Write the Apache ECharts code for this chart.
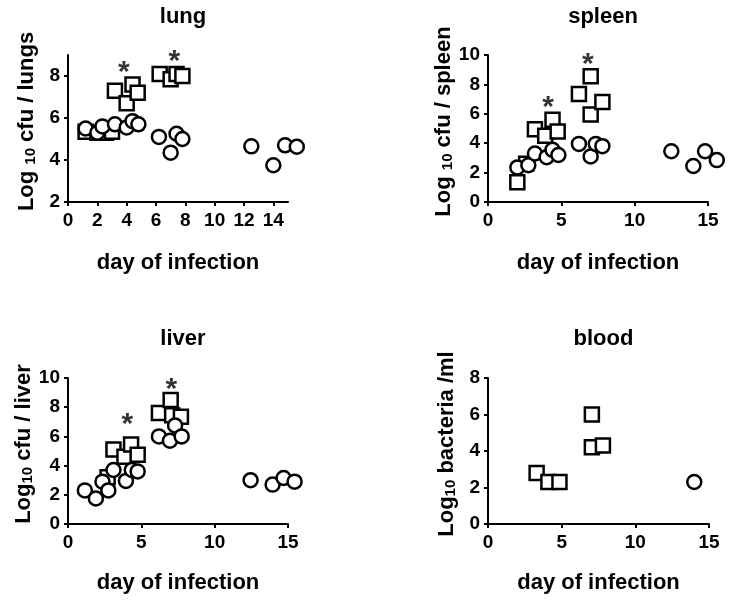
<!DOCTYPE html>
<html>
<head>
<meta charset="utf-8">
<script src="https://cdn.jsdelivr.net/npm/echarts@6/dist/echarts.min.js"></script>
<style>html,body{margin:0;padding:0;background:#fff}#c{width:731px;height:600px}</style>
</head>
<body>
<div id="c"></div>
<script>
// ---- data ----
const panelTitles = ['lung', 'spleen', 'liver', 'blood'];
const xAxisTitle = 'day of infection';
const yOrgans = ['lungs', 'spleen', 'liver', 'bacteria /ml'];

const lungSquares = [[1.2,5.35],[2.0,5.3],[2.6,5.3],[3.0,5.35],[3.2,7.3],[4.0,6.7],[4.4,7.6],[4.75,7.2],[6.25,8.1],[7.0,7.85],[7.4,8.1],[7.8,8.0]];
const lungCircles = [[1.2,5.5],[2.0,5.3],[2.35,5.6],[3.2,5.7],[4.0,5.55],[4.4,5.85],[4.8,5.7],[6.2,5.1],[7.0,4.35],[7.4,5.25],[7.8,5.0],[12.5,4.65],[14.0,3.75],[14.8,4.7],[15.6,4.63]];
const lungStars = [[3.8,8.5],[7.25,9.0]];

const spleenSquares = [[2.0,1.35],[2.6,2.6],[3.2,4.95],[3.9,4.5],[4.4,5.6],[4.75,4.8],[6.2,7.35],[7.0,8.55],[7.0,5.95],[7.8,6.8]];
const spleenCircles = [[2.0,2.35],[2.75,2.5],[3.2,3.3],[4.0,3.05],[4.4,3.55],[4.8,3.2],[6.2,3.95],[7.0,3.1],[7.35,3.95],[7.8,3.8],[12.5,3.45],[14.0,2.45],[14.8,3.45],[15.6,2.85]];
const spleenStars = [[4.1,6.9],[6.8,9.8]];

const liverSquares = [[2.7,3.2],[3.1,5.1],[3.85,4.6],[4.3,5.45],[4.75,4.75],[6.2,7.6],[7.0,8.5],[7.1,7.45],[7.7,7.35]];
const liverCircles = [[1.15,2.3],[1.9,1.75],[2.35,2.9],[2.75,2.3],[3.1,3.7],[3.95,2.95],[4.35,3.7],[4.75,3.6],[6.2,6.0],[6.95,5.7],[7.3,6.75],[7.75,6.0],[12.45,3.0],[13.95,2.7],[14.7,3.15],[15.45,2.9]];
const liverStars = [[4.05,7.25],[7.05,9.7]];

const bloodSquares = [[3.3,2.8],[4.1,2.3],[4.85,2.3],[7.05,6.0],[7.05,4.2],[7.8,4.3]];
const bloodCircles = [[14.0,2.3]];

const lungXTicks = [0,2,4,6,8,10,12,14];
const lungYTicks = [2,4,6,8];

// ---- chart ----
const FONT = '"Liberation Sans", Arial, sans-serif';
const chart = echarts.init(document.getElementById('c'), null, {renderer: 'canvas'});

const grids = [
  {left: 68, top: 55, width: 220, height: 147},
  {left: 488, top: 55, width: 220, height: 147},
  {left: 68, top: 378, width: 220, height: 146},
  {left: 488, top: 378, width: 221, height: 146}
];

function axisBase() {
  return {
    axisLine: {show: true, lineStyle: {color: '#000', width: 2}},
    axisTick: {show: true, inside: false, length: 4, lineStyle: {color: '#000', width: 2}},
    axisLabel: {color: '#000', fontSize: 19, fontWeight: 'bold', fontFamily: FONT},
    splitLine: {show: false},
    nameTextStyle: {color: '#000', fontSize: 22, fontWeight: 'bold', fontFamily: FONT}
  };
}

const xAxes = [0,1,2,3].map(i => {
  const a = axisBase();
  Object.assign(a, {
    type: 'value', gridIndex: i, min: 0, max: 15,
    interval: i === 0 ? 2 : 5,
    name: xAxisTitle, nameLocation: 'middle', nameGap: i < 2 ? 50 : 48
  });
  a.axisLabel.margin = 9;
  if (i === 0) {
    a.axisTick.customValues = lungXTicks;
    a.axisLabel.customValues = lungXTicks;
  }
  return a;
});

const yRanges = [[2,9],[0,10],[0,10],[0,8]];
const yAxes = [0,1,2,3].map(i => {
  const a = axisBase();
  const spaced = i < 2;
  Object.assign(a, {
    type: 'value', gridIndex: i, min: yRanges[i][0], max: yRanges[i][1], interval: 2,
    name: (spaced ? '{a|Log }{s|10}{a| cfu / ' : '{a|Log}{s|10}{a| ' + (i === 2 ? 'cfu / ' : '')) + yOrgans[i] + '}',
    nameLocation: 'middle', nameRotate: 90, nameGap: i === 2 ? 33 : 30
  });
  a.axisLabel.margin = 8;
  a.nameTextStyle.padding = [0, 0, 0, 14];
  a.nameTextStyle.rich = {
    a: {fontSize: 22, fontWeight: 'bold', fontFamily: FONT, color: '#000', lineHeight: 28, verticalAlign: 'bottom'},
    s: {fontSize: 15, fontWeight: 'bold', fontFamily: FONT, color: '#000', lineHeight: 28, verticalAlign: 'bottom', padding: [8,0,0,0]}
  };
  if (i === 0) {
    a.axisTick.customValues = lungYTicks;
    a.axisLabel.customValues = lungYTicks;
  }
  return a;
});

const titles = panelTitles.map((t, i) => ({
  text: t,
  left: grids[i].left + grids[i].width / 2,
  top: i < 2 ? 1 : 323,
  textAlign: 'center',
  textStyle: {color: '#000', fontSize: 22, fontWeight: 'bold', fontFamily: FONT}
}));

function markers(data, idx, symbol) {
  return {
    type: 'scatter', xAxisIndex: idx, yAxisIndex: idx, data: data,
    symbol: symbol, symbolSize: 14, clip: false, silent: true,
    itemStyle: {color: '#fff', borderColor: '#000', borderWidth: 2.5, opacity: 1}
  };
}
function stars(data, idx) {
  return {
    type: 'scatter', xAxisIndex: idx, yAxisIndex: idx, data: data,
    symbolSize: 2, clip: false, silent: true, z: 5,
    itemStyle: {color: 'rgba(0,0,0,0)', borderWidth: 0},
    label: {show: true, position: 'inside', formatter: '*', color: '#000',
      textBorderWidth: 0,
      fontSize: 30, fontWeight: 'bold', fontFamily: FONT, offset: [0, 7]}
  };
}

const series = [
  markers(lungSquares, 0, 'rect'), markers(lungCircles, 0, 'circle'), stars(lungStars, 0),
  markers(spleenSquares, 1, 'rect'), markers(spleenCircles, 1, 'circle'), stars(spleenStars, 1),
  markers(liverSquares, 2, 'rect'), markers(liverCircles, 2, 'circle'), stars(liverStars, 2),
  markers(bloodSquares, 3, 'rect'), markers(bloodCircles, 3, 'circle')
];

chart.setOption({
  animation: false,
  backgroundColor: '#fff',
  title: titles,
  grid: grids,
  xAxis: xAxes,
  yAxis: yAxes,
  series: series
});
</script>
</body>
</html>
